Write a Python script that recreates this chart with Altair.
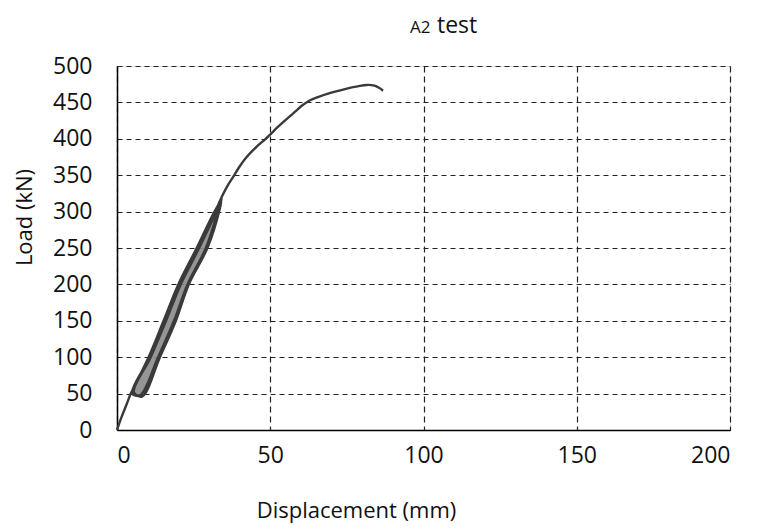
import altair as alt
import pandas as pd

# Load-displacement record, in test order (mm, kN)
displacement = [0, 1.5, 3.2, 4.5, 10.3, 15.2, 20.0, 26.0, 31.8, 34.0, 33.6, 29.5, 23.4, 19.2, 14.0, 8.2,
                5.5, 11.0, 16.0, 20.8, 26.8, 32.4, 34.2, 33.2, 29.0, 23.0, 18.6, 13.4, 7.6,
                5.0, 10.6, 15.6, 20.4, 26.4, 32.0, 34.4, 36.0, 37.8, 40.0, 42.5, 45.5, 48.5, 53.2,
                57.5, 60.5, 63.0, 66.0, 70.5, 75.0, 78.5, 81.5, 84.0, 85.5, 86.8]
load = [0, 18, 36, 50, 100, 150, 200, 250, 300, 315, 305, 250, 200, 150, 100, 46,
        52, 100, 150, 200, 250, 300, 318, 305, 250, 200, 150, 100, 48,
        50, 100, 150, 200, 250, 300, 322, 335, 347, 362, 376, 389, 400, 419,
        435, 446, 453, 458, 464, 469, 472, 474, 473, 470, 466]

# Hysteresis band (cyclic part) edges
band_load = [48, 100, 150, 200, 250, 300, 315]
band_left = [4.5, 10.3, 15.2, 20.0, 26.0, 31.8, 34.0]
band_right = [8.2, 14.0, 19.4, 23.6, 29.6, 33.6, 34.2]

x_ticks = [0, 50, 100, 150, 200]
y_ticks = [0, 50, 100, 150, 200, 250, 300, 350, 400, 450, 500]

curve = pd.DataFrame({"step": range(len(displacement)), "disp": displacement, "load": load})
band = pd.DataFrame({"load": band_load, "left": band_left, "right": band_right})

FONT = "Open Sans"

xscale = alt.Scale(domain=[0, 200], nice=False)
yscale = alt.Scale(domain=[0, 500], nice=False)

x_axis = alt.Axis(
    title="Displacement (mm)", values=x_ticks, grid=True, gridDash=[6, 4], gridColor="#222",
    gridWidth=1.2, ticks=False, domainColor="#000", domainWidth=1.5,
    labelFont=FONT, labelFontSize=23, labelColor="#111", labelPadding=14,
    titleFont=FONT, titleFontSize=22, titleFontWeight="normal", titleColor="#111",
    titleX=239, titleY=70, titleBaseline="top", titleAnchor="middle",
)
y_axis = alt.Axis(
    title="Load (kN)", values=y_ticks, grid=True, gridDash=[5, 4], gridColor="#222",
    gridWidth=1, ticks=False, domainColor="#000", domainWidth=1.5,
    labelFont=FONT, labelFontSize=23, labelColor="#111", labelPadding=25,
    titleFont=FONT, titleFontSize=22, titleFontWeight="normal", titleColor="#111",
    titleX=-81, titleY=151, titleAnchor="middle",
)

band_layer = alt.Chart(band).mark_area(orient="horizontal", color="#8a8a8a", opacity=0.9).encode(
    y=alt.Y("load:Q", scale=yscale, axis=y_axis),
    x=alt.X("left:Q", scale=xscale, axis=x_axis),
    x2="right:Q",
)

line_layer = alt.Chart(curve).mark_line(
    color="#3a3a3a", strokeWidth=2.4, interpolate="catmull-rom"
).encode(
    x=alt.X("disp:Q", scale=xscale, axis=x_axis),
    y=alt.Y("load:Q", scale=yscale, axis=y_axis),
    order="step:Q",
)

title_a2 = alt.Chart(pd.DataFrame({"t": ["A2"]})).mark_text(
    font=FONT, fontSize=17, color="#111", align="left", baseline="alphabetic"
).encode(text="t:N", x=alt.value(293), y=alt.value(-33))

title_test = alt.Chart(pd.DataFrame({"t": ["test"]})).mark_text(
    font=FONT, fontSize=23, color="#111", align="left", baseline="alphabetic"
).encode(text="t:N", x=alt.value(320), y=alt.value(-33))

chart = alt.layer(band_layer, line_layer, title_a2, title_test).properties(
    width=613, height=364,
    autosize=alt.AutoSizeParams(type="none"),
    padding={"left": 109, "top": 58, "right": 20, "bottom": 99},
).configure_view(stroke=None).configure(background="white")

chart.save("out.html", embed_options={"renderer": "svg", "actions": False})
